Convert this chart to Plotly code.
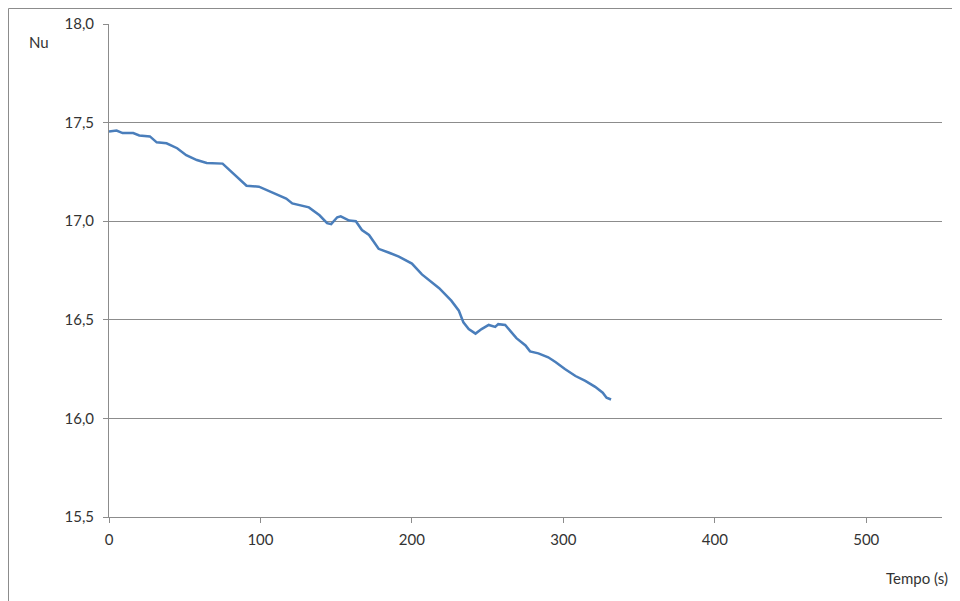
import plotly.graph_objects as go

# Nusselt number vs time
tempo = [0, 5, 9, 16, 20, 27, 31.5, 38, 45, 51, 58, 64.5, 75, 79.6, 85, 90.8, 99,
         110, 117, 121, 132, 139, 144, 146.7, 150.7, 153, 158.6, 163, 167, 171.7,
         178, 185, 191.4, 200, 206.6, 218, 226, 231, 234, 237.5, 242, 246, 250.7,
         255, 257, 261.6, 265, 269, 275, 278, 283.5, 290, 295, 301, 308, 314.5,
         321, 326, 328.5, 331.5]
nu = [17.455, 17.46, 17.447, 17.447, 17.435, 17.43, 17.40, 17.395, 17.37, 17.335,
      17.31, 17.295, 17.292, 17.26, 17.22, 17.18, 17.175, 17.14, 17.115, 17.09,
      17.07, 17.03, 16.99, 16.985, 17.02, 17.025, 17.003, 17.0, 16.955, 16.93,
      16.86, 16.84, 16.82, 16.785, 16.73, 16.66, 16.597, 16.546, 16.487, 16.453,
      16.43, 16.453, 16.474, 16.464, 16.478, 16.474, 16.444, 16.407, 16.37, 16.34,
      16.33, 16.31, 16.285, 16.25, 16.215, 16.19, 16.16, 16.13, 16.105, 16.096]

x_ticks = [0, 100, 200, 300, 400, 500]
y_ticks = [15.5, 16.0, 16.5, 17.0, 17.5, 18.0]

grid_col = "#8c8c8c"
txt_col = "#333333"
font = dict(family="Lato, Open Sans, sans-serif", size=15, color=txt_col)

# page body has an 8px margin, so the figure sits at (8, 8)
W, H = 952, 593
L, R, T, B = 101, 18, 16, 84
pw, ph = W - L - R, H - T - B

fig = go.Figure()
fig.add_trace(go.Scatter(
    x=tempo,
    y=nu,
    mode="lines",
    line=dict(color="#4a7ebb", width=2.5),
    showlegend=False
))

fig.update_layout(
    width=W,
    height=H,
    margin=dict(l=L, r=R, t=T, b=B),
    paper_bgcolor="white",
    plot_bgcolor="white",
    separators=",.",
    font=font,
    xaxis=dict(
        range=[0, 550],
        tickvals=x_ticks,
        showgrid=False,
        zeroline=False,
        showline=True,
        linecolor=grid_col,
        linewidth=1,
        ticks="outside",
        ticklen=5,
        tickcolor=grid_col,
        ticklabelstandoff=4,
        automargin=False,
    ),
    yaxis=dict(
        range=[15.5, 18.0],
        tickvals=y_ticks,
        tickformat=".1f",
        showgrid=True,
        gridcolor=grid_col,
        gridwidth=1,
        zeroline=False,
        showline=True,
        linecolor=grid_col,
        linewidth=1,
        ticks="outside",
        ticklen=5,
        tickcolor=grid_col,
        ticklabelstandoff=6,
        automargin=False,
    ),
)

# chart area frame (left and top edges visible in the crop)
fx = -L / pw + 0.5 / pw
fy = 1 + (T - 0.5) / ph
fig.add_shape(type="line", xref="paper", yref="paper",
              x0=fx, x1=fx, y0=-0.3, y1=fy,
              line=dict(color=grid_col, width=1))
fig.add_shape(type="line", xref="paper", yref="paper",
              x0=fx, x1=1.2, y0=fy, y1=fy,
              line=dict(color=grid_col, width=1))

fig.add_annotation(text="Nu", xref="paper", yref="paper",
                   x=(39 - 109) / pw, y=(517 - 42) / ph,
                   xanchor="center", yanchor="middle",
                   showarrow=False, font=font)
fig.add_annotation(text="Tempo (s)", xref="paper", yref="paper",
                   x=(917 - 109) / pw, y=(517 - 578) / ph,
                   xanchor="center", yanchor="middle",
                   showarrow=False, font=font)

fig.write_html("out.html")
